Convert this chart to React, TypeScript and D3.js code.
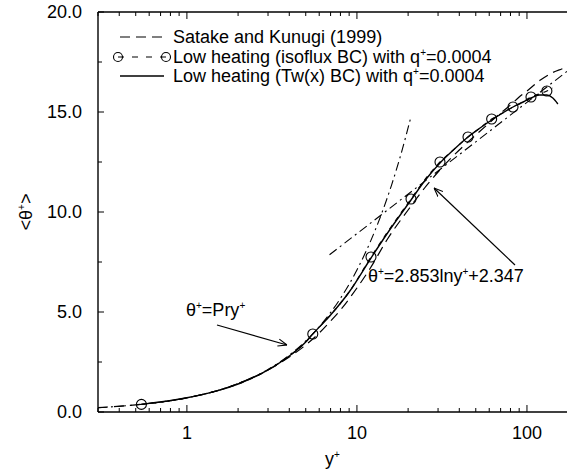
import React from 'react';
import * as d3 from 'd3';

const W = 567;
const H = 472;
const X0 = 98;
const X1 = 567;
const Y0 = 412;
const Y1 = 12;
const FONT = '"Liberation Sans", Arial, Helvetica, sans-serif';
const FS = 18;

// Satake and Kunugi (1999)
const satakeYp = [0.3, 0.5, 1, 1.5, 2, 3, 4, 5, 6, 7, 8, 10, 12, 15, 20, 25, 30, 40, 50, 60, 70, 80, 90, 100, 120, 140, 160, 172];
const satakeTh = [0.22, 0.36, 0.71, 1.06, 1.42, 2.1, 2.75, 3.35, 3.95, 4.55, 5.1, 6.2, 7.2, 8.6, 10.1, 11.2, 12.0, 13.1, 13.85, 14.45, 14.95, 15.35, 15.75, 16.05, 16.6, 16.95, 17.15, 17.25];

// Low heating (isoflux BC)
const isoYp = [0.54, 1, 1.5, 2, 3, 4, 5, 5.5, 7, 9, 12.1, 15, 20.8, 25, 30.8, 38, 45, 53, 62, 72, 82.8, 95, 105.6, 118, 131, 142];
const isoTh = [0.38, 0.71, 1.06, 1.4, 2.1, 2.8, 3.5, 3.9, 4.85, 6.0, 7.75, 8.95, 10.65, 11.6, 12.5, 13.2, 13.75, 14.2, 14.65, 14.95, 15.25, 15.5, 15.75, 15.9, 16.05, 16.2];
const markYp = [0.54, 5.5, 12.1, 20.8, 30.8, 45, 62, 82.8, 105.6, 131];
const markTh = [0.38, 3.9, 7.75, 10.65, 12.5, 13.75, 14.65, 15.25, 15.75, 16.05];

// Low heating (Tw(x) BC)
const twYp = [0.54, 1, 1.5, 2, 3, 4, 5, 5.5, 7, 9, 12.1, 15, 20.8, 25, 30.8, 38, 45, 53, 62, 72, 82.8, 95, 105.6, 118, 131, 142, 152];
const twTh = [0.38, 0.71, 1.06, 1.4, 2.1, 2.8, 3.5, 3.9, 4.85, 6.0, 7.7, 8.9, 10.6, 11.55, 12.45, 13.2, 13.75, 14.2, 14.6, 14.95, 15.25, 15.5, 15.7, 15.85, 15.85, 15.7, 15.4];

// theta+ = Pr y+
const pryYp = [0.3, 0.5, 1, 2, 3, 4, 5, 6, 7, 8, 10, 12, 14, 16, 18, 20.8];
const pryTh = [0.213, 0.355, 0.71, 1.42, 2.13, 2.84, 3.55, 4.26, 4.97, 5.68, 7.1, 8.52, 9.94, 11.36, 12.78, 14.77];

// theta+ = 2.853 ln y+ + 2.347
const logYp = [6.9, 172];
const logTh = [7.86, 17.03];

const xTickVals = [1, 10, 100];
const xTickLabels = ['1', '10', '100'];
const yTickVals = [0, 5, 10, 15, 20];
const yTickLabels = ['0.0', '5.0', '10.0', '15.0', '20.0'];

const legendLabels = ['Satake and Kunugi (1999)', 'Low heating (isoflux BC) with q', 'Low heating (Tw(x) BC) with q'];

function zip(a: number[], b: number[]): [number, number][] {
  return a.map((v, i) => [v, b[i]] as [number, number]);
}

const Sup = ({ children }: { children: string }) => (
  <tspan fontSize={10} dy={-7}>
    {children}
  </tspan>
);

export default function App() {
  const x = d3.scaleLog().domain([0.3, 172]).range([X0, X1]);
  const y = d3.scaleLinear().domain([0, 20]).range([Y0, Y1]);
  const line = d3
    .line<[number, number]>()
    .x((d) => x(d[0]))
    .y((d) => y(d[1]))
    .curve(d3.curveMonotoneX);
  const straight = d3
    .line<[number, number]>()
    .x((d) => x(d[0]))
    .y((d) => y(d[1]));

  const minorX: number[] = [];
  [0.1, 1, 10, 100].forEach((dec) => {
    for (let k = 2; k <= 9; k++) {
      const v = dec * k;
      if (v >= 0.3 && v <= 172) minorX.push(v);
    }
  });
  const minorY = [2.5, 7.5, 12.5, 17.5];

  const legY = [37, 57, 76];
  const legX0 = 118;
  const legX1 = 166;
  const legTx = 173;

  return (
    <svg width={W} height={H} style={{ position: 'absolute', left: 0, top: 0, background: '#fff' }} fontFamily={FONT}>
      <defs>
        <clipPath id="plot">
          <rect x={X0} y={Y1} width={X1 - X0} height={Y0 - Y1} />
        </clipPath>
        <marker id="arr" viewBox="0 0 10 10" refX="10" refY="5" markerWidth="9" markerHeight="9" orient="auto" markerUnits="userSpaceOnUse">
          <path d="M0,1 L10,5 L0,9" fill="none" stroke="#000" strokeWidth={1.2} />
        </marker>
      </defs>
      <rect x={0} y={0} width={W} height={H} fill="#fff" />

      {/* axes frame */}
      <g stroke="#000" strokeWidth={1.4} fill="none">
        <line x1={X0} y1={Y0} x2={X1} y2={Y0} />
        <line x1={X0} y1={Y1} x2={X1} y2={Y1} />
        <line x1={X0} y1={Y0} x2={X0} y2={Y1} />
      </g>
      <g stroke="#000" strokeWidth={1}>
        {xTickVals.map((v) => (
          <g key={'xm' + v}>
            <line x1={x(v)} x2={x(v)} y1={Y0} y2={Y0 - 7} />
            <line x1={x(v)} x2={x(v)} y1={Y1} y2={Y1 + 7} />
          </g>
        ))}
        {minorX.map((v) => (
          <g key={'xn' + v}>
            <line x1={x(v)} x2={x(v)} y1={Y0} y2={Y0 - 4} />
            <line x1={x(v)} x2={x(v)} y1={Y1} y2={Y1 + 4} />
          </g>
        ))}
        {yTickVals.map((v) => (
          <line key={'ym' + v} x1={X0} x2={X0 + 6} y1={y(v)} y2={y(v)} />
        ))}
        {minorY.map((v) => (
          <line key={'yn' + v} x1={X0} x2={X0 + 4} y1={y(v)} y2={y(v)} />
        ))}
      </g>
      <g fontSize={FS} fill="#000">
        {xTickVals.map((v, i) => (
          <text key={'xl' + v} x={x(v)} y={439} textAnchor="middle">
            {xTickLabels[i]}
          </text>
        ))}
        {yTickVals.map((v, i) => (
          <text key={'yl' + v} x={82} y={y(v) + 6} textAnchor="end">
            {yTickLabels[i]}
          </text>
        ))}
        <text x={(X0 + X1) / 2} y={465} textAnchor="middle">
          y<Sup>+</Sup>
        </text>
        <text transform={`translate(32,${(Y0 + Y1) / 2}) rotate(-90)`} textAnchor="middle">
          {'<θ'}
          <Sup>+</Sup>
          <tspan dy={7}>{'>'}</tspan>
        </text>
      </g>

      {/* data */}
      <g clipPath="url(#plot)" fill="none" stroke="#000">
        <path d={straight(zip(logYp, logTh)) || ''} strokeWidth={1.1} strokeDasharray="9,4,2,4" />
        <path d={line(zip(pryYp, pryTh)) || ''} strokeWidth={1.1} strokeDasharray="9,4,2,4" />
        <path d={line(zip(satakeYp, satakeTh)) || ''} strokeWidth={1.2} strokeDasharray="10,6" />
        <path d={line(zip(isoYp, isoTh)) || ''} strokeWidth={1.2} strokeDasharray="5,5" />
        <path d={line(zip(twYp, twTh)) || ''} strokeWidth={1.4} />
        {markYp.map((v, i) => (
          <circle key={'m' + i} cx={x(v)} cy={y(markTh[i])} r={5} strokeWidth={1.1} fill="none" />
        ))}
      </g>

      {/* annotations */}
      <g fontSize={FS} fill="#000">
        <text x={186} y={316}>
          θ<Sup>+</Sup>
          <tspan dy={7}>=Pry</tspan>
          <Sup>+</Sup>
        </text>
        <text x={368} y={282}>
          θ<Sup>+</Sup>
          <tspan dy={7}>=2.853lny</tspan>
          <Sup>+</Sup>
          <tspan dy={7}>+2.347</tspan>
        </text>
      </g>
      <g stroke="#000" strokeWidth={1.2} fill="none">
        <line x1={217} y1={325} x2={287} y2={345} markerEnd="url(#arr)" />
        <line x1={515} y1={265} x2={434} y2={188} markerEnd="url(#arr)" />
      </g>

      {/* legend */}
      <g stroke="#000" fill="none">
        <line x1={legX0 + 2} x2={legX1 - 2} y1={legY[0]} y2={legY[0]} strokeWidth={1.2} strokeDasharray="10,6" />
        <line x1={legX0} x2={legX1} y1={legY[1]} y2={legY[1]} strokeWidth={1.2} strokeDasharray="6,8" />
        <circle cx={legX0} cy={legY[1]} r={4.5} strokeWidth={1.1} />
        <circle cx={legX1} cy={legY[1]} r={4.5} strokeWidth={1.1} />
        <line x1={legX0 + 2} x2={legX1 - 2} y1={legY[2]} y2={legY[2]} strokeWidth={1.4} />
      </g>
      <g fontSize={FS} fill="#000">
        <text x={legTx} y={legY[0] + 6}>{legendLabels[0]}</text>
        <text x={legTx} y={legY[1] + 6}>
          {legendLabels[1]}
          <Sup>+</Sup>
          <tspan dy={7}>=0.0004</tspan>
        </text>
        <text x={legTx} y={legY[2] + 6}>
          {legendLabels[2]}
          <Sup>+</Sup>
          <tspan dy={7}>=0.0004</tspan>
        </text>
      </g>
    </svg>
  );
}
